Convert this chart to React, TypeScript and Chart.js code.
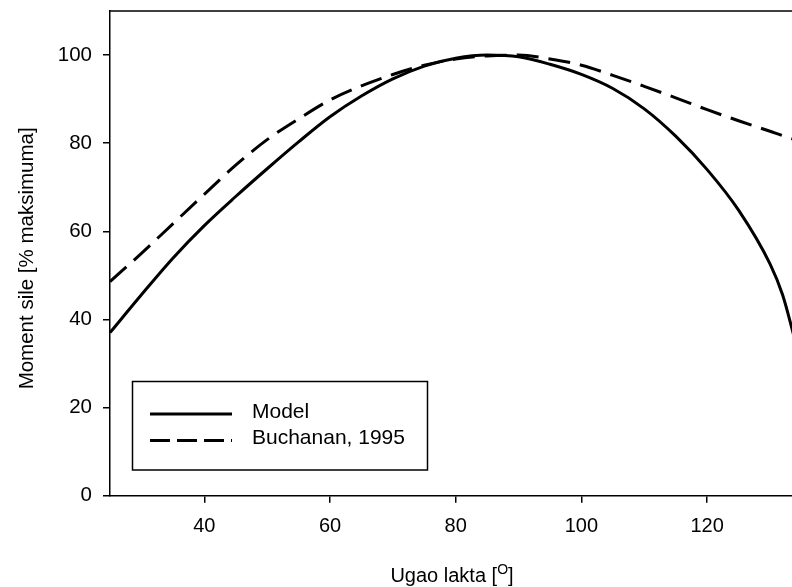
import React, { useEffect, useRef } from "react";
import { Chart, registerables } from "chart.js";

Chart.register(...registerables);

const angles = [25, 30, 35, 40, 45, 50, 55, 60, 65, 70, 75, 80, 85, 90, 95, 100, 105, 110, 115, 120, 125, 130, 132, 134];
const modelValues = [37.0, 45.6, 53.9, 61.3, 67.9, 74.2, 80.3, 86.0, 90.7, 94.6, 97.5, 99.3, 100.0, 99.6, 97.9, 95.6, 92.4, 87.8, 81.6, 74.0, 64.8, 52.6, 45.6, 35.2];
const buchananValues = [48.6, 55.0, 61.7, 68.4, 75.0, 80.8, 85.5, 89.8, 93.0, 95.6, 97.7, 99.1, 99.8, 100.0, 99.1, 97.7, 95.4, 92.9, 90.3, 87.6, 85.1, 82.7, 81.7, 80.8];
const xTicks = [40, 60, 80, 100, 120];
const yTicks = [0, 20, 40, 60, 80, 100];
const seriesNames = ["Model", "Buchanan, 1995"];
const yTitle = "Moment sile [% maksimuma]";
const xTitleMain = "Ugao lakta [";
const xTitleSup = "O";
const xTitleEnd = "]";

const FONT = "'Liberation Sans', Arial, sans-serif";

const framePlugin = {
  id: "framePlugin",
  afterDraw(chart: any) {
    const { ctx, chartArea } = chart;
    const { left, top, right, bottom } = chartArea;
    ctx.save();
    ctx.strokeStyle = "#000";
    ctx.lineWidth = 1.5;
    ctx.beginPath();
    ctx.moveTo(left, top);
    ctx.lineTo(right, top);
    ctx.stroke();

    ctx.fillStyle = "#000";
    ctx.font = `20.5px ${FONT}`;
    ctx.save();
    ctx.translate(33, (top + bottom) / 2 + 5);
    ctx.rotate(-Math.PI / 2);
    ctx.textAlign = "center";
    ctx.textBaseline = "alphabetic";
    ctx.fillText(yTitle, 0, 0);
    ctx.restore();

    ctx.font = `20px ${FONT}`;
    const w1 = ctx.measureText(xTitleMain).width;
    const w3 = ctx.measureText(xTitleEnd).width;
    ctx.font = `14px ${FONT}`;
    const w2 = ctx.measureText(xTitleSup).width;
    const total = w1 + w2 + w3;
    const cx = (left + right) / 2 + 1;
    let x = cx - total / 2;
    const base = 582;
    ctx.textAlign = "left";
    ctx.textBaseline = "alphabetic";
    ctx.font = `20px ${FONT}`;
    ctx.fillText(xTitleMain, x, base);
    x += w1;
    ctx.font = `14px ${FONT}`;
    ctx.fillText(xTitleSup, x, base - 8);
    x += w2;
    ctx.font = `20px ${FONT}`;
    ctx.fillText(xTitleEnd, x, base);

    const bx = 132.5, by = 381.5, bw = 295, bh = 88.5;
    ctx.lineWidth = 1.5;
    ctx.strokeRect(bx, by, bw, bh);
    const ds = chart.data.datasets;
    const rows = [414, 440.5];
    for (let i = 0; i < ds.length; i++) {
      ctx.save();
      ctx.strokeStyle = "#000";
      ctx.lineWidth = 3;
      ctx.setLineDash(i === 0 ? [] : [20, 7]);
      ctx.beginPath();
      ctx.moveTo(150, rows[i]);
      ctx.lineTo(232, rows[i]);
      ctx.stroke();
      ctx.restore();
      ctx.font = `21px ${FONT}`;
      ctx.textBaseline = "middle";
      ctx.textAlign = "left";
      ctx.fillText(seriesNames[i], 252, rows[i] - 2);
    }
    ctx.restore();
  },
};

export default function App() {
  const canvasRef = useRef<HTMLCanvasElement | null>(null);

  useEffect(() => {
    document.body.style.margin = "0";
    const canvas = canvasRef.current;
    if (!canvas) return;
    const chart = new Chart(canvas, {
      type: "line",
      data: {
        datasets: [
          {
            label: seriesNames[0],
            data: angles.map((a, i) => ({ x: a, y: modelValues[i] })),
            borderColor: "#000",
            borderWidth: 3,
            pointRadius: 0,
            cubicInterpolationMode: "monotone",
            fill: false,
          },
          {
            label: seriesNames[1],
            data: angles.map((a, i) => ({ x: a, y: buchananValues[i] })),
            borderColor: "#000",
            borderWidth: 3,
            borderDash: [22, 10],
            pointRadius: 0,
            cubicInterpolationMode: "monotone",
            fill: false,
          },
        ],
      },
      options: {
        animation: false,
        responsive: false,
        devicePixelRatio: 1,
        layout: { padding: { top: 11, left: 0, right: 0, bottom: 0 } },
        plugins: {
          legend: { display: false },
          tooltip: { enabled: false },
          title: { display: false },
        },
        scales: {
          x: {
            type: "linear",
            min: 25,
            max: 133.5,
            afterBuildTicks: (s: any) => {
              s.ticks = xTicks.map((v) => ({ value: v }));
            },
            afterFit: (s: any) => {
              s.height = 91.3;
              s.paddingLeft = 0;
              s.paddingRight = 0;
            },
            grid: {
              drawOnChartArea: false,
              drawTicks: true,
              tickLength: 7,
              color: "#000",
              lineWidth: 1.5,
            },
            border: { display: true, color: "#000", width: 1.5 },
            ticks: {
              color: "#000",
              font: { family: FONT, size: 20 },
              padding: 12,
              maxRotation: 0,
            },
          },
          y: {
            type: "linear",
            min: 0,
            max: 110,
            afterBuildTicks: (s: any) => {
              s.ticks = yTicks.map((v) => ({ value: v }));
            },
            afterFit: (s: any) => {
              s.width = 110;
              s.paddingTop = 0;
              s.paddingBottom = 0;
            },
            grid: {
              drawOnChartArea: false,
              drawTicks: true,
              tickLength: 7,
              color: "#000",
              lineWidth: 1.5,
            },
            border: { display: true, color: "#000", width: 1.5 },
            ticks: {
              color: "#000",
              font: { family: FONT, size: 20.5 },
              padding: 11,
            },
          },
        },
      },
      plugins: [framePlugin],
    });
    return () => chart.destroy();
  }, []);

  return (
    <div style={{ position: "absolute", left: 0, top: 0, width: 792, height: 587 }}>
      <canvas ref={canvasRef} width={792} height={587} style={{ display: "block" }} />
    </div>
  );
}
